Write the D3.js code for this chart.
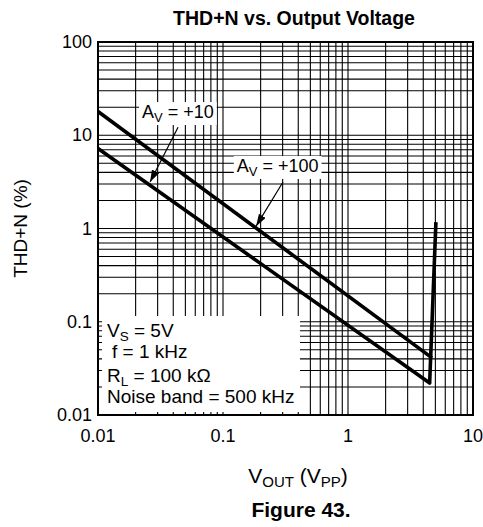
<!DOCTYPE html>
<html>
<head>
<meta charset="utf-8">
<script src="https://cdn.jsdelivr.net/npm/d3@7"></script>
<style>
  body { margin: 0; background: #fff; }
  svg text { font-family: "Liberation Sans", Arial, sans-serif; fill: #000; }
</style>
</head>
<body>
<div id="js_chart"></div>
<script>
// ******************************************************
// Data
// ******************************************************
const xTicks = [0.01, 0.1, 1, 10];
const yTicks = [0.01, 0.1, 1, 10, 100];
const xTickLabels = ["0.01", "0.1", "1", "10"];
const yTickLabels = ["0.01", "0.1", "1", "10", "100"];

// Av = +10 (lower curve, turns up at clipping)
const av10 = [
    {x: 0.01, y: 7.2},
    {x: 4.5, y: 0.022},
    {x: 5.05, y: 1.17}
];
// Av = +100 (upper curve)
const av100 = [
    {x: 0.01, y: 18},
    {x: 4.7, y: 0.041}
];

// labels + arrows, in data units
const annotations = [
    {label: "+10", tx: 0.0225, ty: 15.3, from: [0.0437, 12.2], to: [0.0261, 3.15]},
    {label: "+100", tx: 0.129, ty: 4.04, from: [0.302, 3.15], to: [0.184, 1.06]}
];

const legendLines = [
    {main: "V", sub: "S", rest: " = 5V", dx: 9, dy: 21},
    {main: "f = 1 kHz", sub: "", rest: "", dx: 14, dy: 42},
    {main: "R", sub: "L", rest: " = 100 k\u03A9", dx: 9, dy: 66},
    {main: "Noise band = 500 kHz", sub: "", rest: "", dx: 9, dy: 87}
];

createPlot();

function createPlot() {

    // ******************************************************
    // Settings
    // ******************************************************
    let margin = {top: 42, right: 10, bottom: 112, left: 98},
        width = 483 - margin.left - margin.right,
        height = 527 - margin.top - margin.bottom;

    let x = d3.scaleLog().domain([0.01, 10]).range([0, width]);
    let y = d3.scaleLog().domain([0.01, 100]).range([height, 0]);

    let root = d3.select("#js_chart")
        .append("svg")
        .attr("width", 483)
        .attr("height", 527);

    let svg = root.append("g")
        .attr("transform", "translate(" + margin.left + "," + margin.top + ")");

    // ******************************************************
    // Grid
    // ******************************************************
    let xGrid = [], yGrid = [];
    for (let e = -2; e < 1; e++)
        for (let m = 1; m <= 9; m++) xGrid.push(m * Math.pow(10, e));
    for (let e = -2; e < 2; e++)
        for (let m = 1; m <= 9; m++) yGrid.push(m * Math.pow(10, e));

    svg.append("g").selectAll("line")
        .data(xGrid)
        .enter().append("line")
        .attr("x1", d => x(d)).attr("x2", d => x(d))
        .attr("y1", 0).attr("y2", height)
        .attr("stroke", "#000").attr("stroke-width", 1.1);

    svg.append("g").selectAll("line")
        .data(yGrid)
        .enter().append("line")
        .attr("x1", 0).attr("x2", width)
        .attr("y1", d => y(d)).attr("y2", d => y(d))
        .attr("stroke", "#000").attr("stroke-width", 1.1);

    // ******************************************************
    // Legend box (covers grid)
    // ******************************************************
    svg.append("rect")
        .attr("x", 4).attr("y", height - 99)
        .attr("width", 198).attr("height", 96)
        .attr("fill", "#fff");

    let leg = svg.append("g")
        .attr("transform", "translate(0," + (height - 99) + ")");
    legendLines.forEach(l => {
        let t = leg.append("text")
            .attr("x", l.dx).attr("y", l.dy)
            .attr("font-size", 19);
        t.append("tspan").text(l.main);
        if (l.sub) {
            t.append("tspan").attr("font-size", 13.5).attr("dy", 4).text(l.sub);
            t.append("tspan").attr("dy", -4).text(l.rest);
        }
    });

    // ******************************************************
    // Curves
    // ******************************************************
    let line = d3.line().x(d => x(d.x)).y(d => y(d.y));

    [av10, av100].forEach(s => {
        svg.append("path")
            .datum(s)
            .attr("d", line)
            .attr("fill", "none")
            .attr("stroke", "#000")
            .attr("stroke-width", 3.6)
            .attr("stroke-linejoin", "round");
    });

    // ******************************************************
    // Annotations
    // ******************************************************
    root.append("defs").append("marker")
        .attr("id", "arrow")
        .attr("viewBox", "0 0 12 8")
        .attr("refX", 12).attr("refY", 4)
        .attr("markerWidth", 12).attr("markerHeight", 8)
        .attr("markerUnits", "userSpaceOnUse")
        .attr("orient", "auto")
        .append("path")
        .attr("d", "M0,0 L12,4 L0,8 Z")
        .attr("fill", "#000");

    annotations.forEach(a => {
        let g = svg.append("g");
        let t = g.append("text")
            .attr("x", x(a.tx)).attr("y", y(a.ty))
            .attr("font-size", 18);
        t.append("tspan").text("A");
        t.append("tspan").attr("font-size", 13).attr("dy", 4).text("V");
        t.append("tspan").attr("dy", -4).text(" = " + a.label);
        let bb = t.node().getBBox();
        g.insert("rect", "text")
            .attr("x", bb.x - 3).attr("y", bb.y)
            .attr("width", bb.width + 6).attr("height", bb.height)
            .attr("fill", "#fff");

        svg.append("line")
            .attr("x1", x(a.from[0])).attr("y1", y(a.from[1]))
            .attr("x2", x(a.to[0])).attr("y2", y(a.to[1]))
            .attr("stroke", "#000").attr("stroke-width", 1.2)
            .attr("marker-end", "url(#arrow)");
    });

    // ******************************************************
    // Frame + tick labels
    // ******************************************************
    svg.append("rect")
        .attr("width", width).attr("height", height)
        .attr("fill", "none").attr("stroke", "#000").attr("stroke-width", 2);

    svg.append("g").selectAll("text")
        .data(xTicks)
        .enter().append("text")
        .attr("x", d => x(d)).attr("y", height + 27)
        .attr("text-anchor", "middle")
        .attr("font-size", 18)
        .text((d, i) => xTickLabels[i]);

    svg.append("g").selectAll("text")
        .data(yTicks)
        .enter().append("text")
        .attr("x", -6).attr("y", d => y(d) + 6)
        .attr("text-anchor", "end")
        .attr("font-size", 18)
        .text((d, i) => yTickLabels[i]);

    // ******************************************************
    // Titles
    // ******************************************************
    root.append("text")
        .attr("x", 294).attr("y", 25)
        .attr("text-anchor", "middle")
        .attr("font-size", 19.5).attr("font-weight", "bold")
        .text("THD+N vs. Output Voltage");

    root.append("text")
        .attr("transform", "translate(27," + (margin.top + height / 2) + ") rotate(-90)")
        .attr("text-anchor", "middle")
        .attr("font-size", 19)
        .text("THD+N (%)");

    let xt = root.append("text")
        .attr("x", 298).attr("y", 483)
        .attr("text-anchor", "middle")
        .attr("font-size", 21);
    xt.append("tspan").text("V");
    xt.append("tspan").attr("font-size", 15).attr("dy", 4).text("OUT");
    xt.append("tspan").attr("dy", -4).text(" (V");
    xt.append("tspan").attr("font-size", 15).attr("dy", 4).text("PP");
    xt.append("tspan").attr("dy", -4).text(")");

    root.append("text")
        .attr("x", 301).attr("y", 517)
        .attr("text-anchor", "middle")
        .attr("font-size", 21).attr("font-weight", "bold")
        .text("Figure 43.");
}
</script>
</body>
</html>
